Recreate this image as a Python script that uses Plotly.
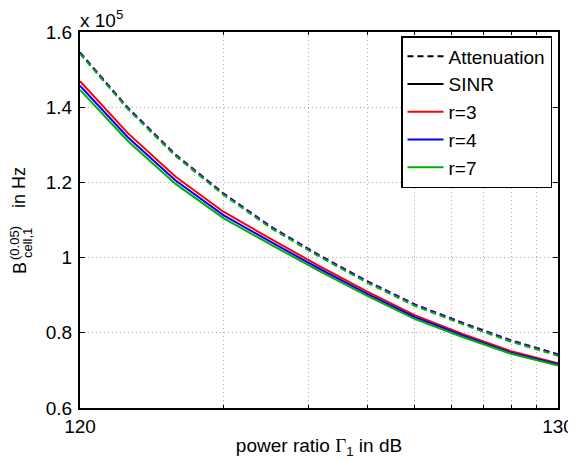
import plotly.graph_objects as go

# ---- data (values in units of 1e5 Hz) ----
gamma_db = [120, 121, 122, 123, 124, 125, 126, 127, 128, 129, 130]

att_r3 = [1.546, 1.399, 1.274, 1.171, 1.082, 1.007, 0.938, 0.876, 0.827, 0.781, 0.743]
att_r4 = [1.545, 1.398, 1.273, 1.170, 1.081, 1.006, 0.937, 0.875, 0.826, 0.780, 0.742]
att_r7 = [1.542, 1.395, 1.270, 1.167, 1.078, 1.003, 0.934, 0.872, 0.823, 0.777, 0.739]

sinr_r3 = [1.469, 1.331, 1.215, 1.122, 1.049, 0.978, 0.910, 0.847, 0.797, 0.752, 0.719]
sinr_r4 = [1.457, 1.320, 1.205, 1.113, 1.041, 0.971, 0.904, 0.842, 0.793, 0.748, 0.716]
sinr_r7 = [1.446, 1.310, 1.196, 1.105, 1.034, 0.965, 0.899, 0.837, 0.789, 0.745, 0.713]

x_tick_labels = ["120", "130"]
y_tick_vals = [0.6, 0.8, 1.0, 1.2, 1.4, 1.6]
y_tick_labels = ["0.6", "0.8", "1", "1.2", "1.4", "1.6"]

RED = "rgb(255,0,0)"
BLUE = "rgb(0,0,255)"
GREEN = "rgb(0,176,0)"
DASH = "6px,4px"
GRID_DASH = "1px,3px"
GRID_COL = "rgb(170,170,170)"
FONT = "Liberation Sans, Arial, Helvetica, sans-serif"
FS = 19

x_lin = [10 ** (d / 10) for d in gamma_db]

fig = go.Figure()

# legend-only entries
fig.add_trace(go.Scatter(x=[None], y=[None], mode="lines", name="Attenuation",
                         line=dict(color="black", width=2, dash=DASH), legendgroup="a"))
fig.add_trace(go.Scatter(x=[None], y=[None], mode="lines", name="SINR",
                         line=dict(color="black", width=2), legendgroup="b"))

# attenuation (dashed)
for y, c in [(att_r3, RED), (att_r4, BLUE), (att_r7, GREEN)]:
    fig.add_trace(go.Scatter(x=x_lin, y=y, mode="lines", showlegend=False,
                             line=dict(color=c, width=2, dash=DASH)))

# SINR (solid)
for y, c, n, g in [(sinr_r3, RED, "r=3", "c"), (sinr_r4, BLUE, "r=4", "d"), (sinr_r7, GREEN, "r=7", "e")]:
    fig.add_trace(go.Scatter(x=x_lin, y=y, mode="lines", name=n, legendgroup=g,
                             line=dict(color=c, width=2)))

# page body has an 8px margin; compensate so the plot lands where the reference has it
OFF = 8
W, H = 576 - OFF, 459 - OFF
PL, PR, PT, PB = 80, 558, 32, 408   # plot area in screen pixels
L, R, T, B = PL - OFF, OFF + W - PR, PT - OFF, OFF + H - PB
PW, PH = PR - PL, PB - PT


def px(xp):
    return (xp - PL) / PW


def py(yp):
    return (PB - yp) / PH


fig.update_layout(
    width=W, height=H,
    margin=dict(l=L, r=R, t=T, b=B, pad=0, autoexpand=False),
    paper_bgcolor="white", plot_bgcolor="white",
    font=dict(family=FONT, size=FS, color="black"),
    showlegend=True,
    legend=dict(
        x=px(552), y=py(36), xanchor="right", yanchor="top",
        bgcolor="white", bordercolor="black", borderwidth=1.5,
        font=dict(size=FS), tracegroupgap=0, traceorder="grouped",
        itemwidth=36,
    ),
    xaxis=dict(
        type="log", range=[12, 13], automargin=False,
        tickvals=[1e12, 1e13], ticktext=x_tick_labels,
        ticks="inside", ticklen=5, tickcolor="black",
        showline=True, linecolor="black", linewidth=2, mirror="ticks",
        showgrid=False, zeroline=False,
        tickfont=dict(size=FS),
        title=dict(text="power ratio <span style='font-family:Liberation Serif'>Γ</span><sub>1</sub> in dB",
                   font=dict(size=FS), standoff=4),
        minor=dict(tickvals=[k * 1e12 for k in range(2, 10)], ticks="inside", ticklen=3,
                   tickcolor="black", showgrid=True, gridcolor=GRID_COL,
                   griddash=GRID_DASH, gridwidth=1),
    ),
    yaxis=dict(
        range=[0.6, 1.6], automargin=False,
        tickvals=y_tick_vals, ticktext=y_tick_labels,
        ticks="inside", ticklen=5, tickcolor="black",
        showline=True, linecolor="black", linewidth=2, mirror="ticks",
        showgrid=True, gridcolor=GRID_COL, griddash=GRID_DASH, gridwidth=1,
        zeroline=False, tickfont=dict(size=FS), ticklabelstandoff=2,
    ),
)

# y-axis title assembled from pieces (stacked super/subscript)
ann = [
    dict(text="B", x=px(20), y=py(268), size=18),
    dict(text="(0.05)", x=px(14), y=py(243), size=13),
    dict(text="cell,1", x=px(27), y=py(243), size=13),
    dict(text="in Hz", x=px(19), y=py(188), size=18),
]
for a in ann:
    fig.add_annotation(text=a["text"], x=a["x"], y=a["y"], xref="paper", yref="paper",
                       xanchor="center", yanchor="middle", textangle=-90, showarrow=False,
                       font=dict(size=a["size"], family=FONT, color="black"))

# exponent label
fig.add_annotation(text="x 10<sup>5</sup>", x=px(79), y=py(32), xref="paper", yref="paper",
                   xanchor="left", yanchor="bottom", showarrow=False, borderpad=0,
                   font=dict(size=FS, family=FONT, color="black"))

fig.write_html("out.html")
